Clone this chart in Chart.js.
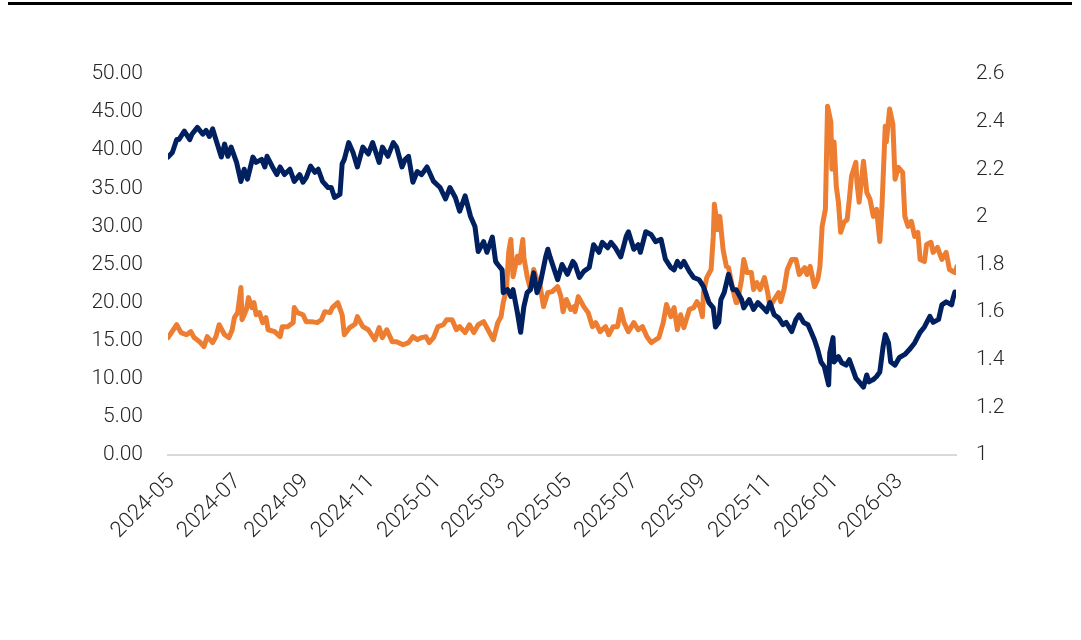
<!DOCTYPE html>
<html>
<head>
<meta charset="utf-8">
<script src="https://cdn.jsdelivr.net/npm/chart.js@4"></script>
<style>
  html, body { margin: 0; padding: 0; background: #fff; }
  #wrap { position: relative; width: 1081px; height: 640px; }
  #topline { position: absolute; left: 8px; top: 2px; width: 1064px; height: 3px; background: #000; }
  canvas { position: absolute; left: 0; top: 0; }
</style>
</head>
<body>
<div id="wrap">
  <canvas id="c" width="1081" height="640"></canvas>
  <div id="topline"></div>
</div>
<script>
// Base date for day offsets
const baseDate = '2024-05-01';
// X tick labels (every two months)
const tickLabels = ['2024-05','2024-07','2024-09','2024-11','2025-01','2025-03','2025-05','2025-07','2025-09','2025-11','2026-01','2026-03'];

// Navy series (left axis) : day offsets from baseDate and values
const navyDays = [-3,1,5,7,12,17,19,24,29,32,35,38,41,46,49,52,55,60,64,67,70,75,78,83,86,88,93,97,100,104,109,113,118,121,124,128,132,135,139,144,147,150,155,157,159,163,167,171,176,181,185,191,194,199,204,207,212,215,218,222,226,230,235,241,247,252,256,261,265,270,275,279,282,287,290,295,298,300,304,305,309,312,314,318,321,324,327,330,333,336,339,344,346,348,355,359,364,369,371,375,379,384,388,393,396,401,404,408,413,418,420,425,429,431,436,441,445,450,454,459,462,465,468,471,476,480,485,489,494,498,500,503,505,508,512,516,519,524,526,531,535,539,544,547,550,554,558,562,565,570,574,577,581,585,588,591,594,597,600,604,605,608,609,613,616,620,623,627,629,632,636,639,641,645,648,651,654,656,659,661,665,669,674,678,683,688,692,697,700,705,708,712,717,718,720];
const navyValues = [39.1,39.7,41.4,41.4,42.5,41.4,42.1,43.0,42.1,42.6,41.8,42.8,41.4,39.1,40.8,39.2,40.4,38.4,35.9,37.5,36.2,39.1,38.4,38.8,37.8,39.2,37.8,36.8,37.8,36.8,37.5,35.9,36.8,35.8,36.4,37.9,37.1,37.5,35.9,35.1,35.1,33.8,34.2,38.2,38.8,41.0,39.7,37.8,40.4,39.5,41.0,38.4,40.4,39.2,41.0,40.4,37.8,38.8,39.2,35.8,37.2,36.8,37.8,35.9,35.1,33.6,35.1,33.8,32.0,34.0,31.3,30.0,26.7,28.0,26.6,28.6,25.4,25.0,24.3,21.3,21.7,20.8,21.7,18.7,16.1,19.5,21.3,21.7,23.9,21.3,22.5,26.0,27.0,26.0,23.0,25.0,23.7,25.4,25.0,23.3,24.1,24.6,27.6,26.6,27.9,27.2,27.9,27.2,26.0,28.7,29.3,27.0,27.6,26.6,29.3,28.9,28.0,28.3,25.7,24.6,24.3,25.4,24.7,25.4,24.1,23.3,23.0,22.1,20.0,19.3,16.8,17.4,20.4,21.3,23.7,21.7,21.7,20.4,19.3,20.4,19.1,20.0,19.3,18.8,20.0,18.4,18.0,17.1,17.4,16.2,17.8,18.4,17.4,17.1,16.1,15.1,13.8,12.2,11.6,9.2,13.4,15.4,12.2,12.9,12.1,11.8,12.5,10.9,10.1,9.6,8.9,10.5,9.6,9.9,10.3,10.9,14.2,15.8,14.7,12.2,11.8,12.8,13.2,13.8,14.7,16.1,16.8,18.2,17.4,17.8,19.7,20.1,19.7,20.4,21.4];

// Orange series (right axis)
const orangeDays = [-3,5,9,14,18,21,26,30,33,38,41,44,49,53,56,58,61,64,65,69,71,74,76,78,81,84,87,89,95,100,102,107,112,113,116,121,124,129,134,138,141,146,148,153,157,159,164,169,171,176,181,187,191,194,198,203,207,213,218,222,226,230,234,237,241,245,250,253,258,262,265,270,274,278,282,287,291,296,300,303,305,308,310,312,314,318,320,323,324,327,330,333,336,339,342,346,350,355,358,360,363,367,370,371,374,379,383,387,390,394,399,402,406,410,413,416,420,425,429,433,437,441,445,448,452,455,459,462,465,468,471,476,480,483,486,488,489,492,496,498,499,502,504,507,510,512,516,519,520,524,526,529,533,535,538,541,545,548,550,554,558,560,563,566,570,574,577,582,584,587,591,594,596,598,601,603,606,607,609,611,613,615,618,621,623,625,629,630,632,636,639,642,645,648,651,653,656,657,660,663,665,668,672,674,677,680,683,686,688,692,694,698,700,704,708,712,715,720,722];
const orangeValues = [1.493,1.547,1.514,1.505,1.518,1.493,1.476,1.455,1.497,1.472,1.497,1.547,1.505,1.493,1.526,1.577,1.598,1.703,1.568,1.611,1.661,1.619,1.640,1.589,1.598,1.556,1.577,1.526,1.518,1.497,1.539,1.539,1.556,1.619,1.598,1.589,1.560,1.560,1.556,1.568,1.602,1.598,1.619,1.640,1.589,1.505,1.535,1.550,1.581,1.539,1.526,1.484,1.535,1.493,1.526,1.476,1.476,1.463,1.472,1.497,1.484,1.493,1.497,1.472,1.493,1.539,1.547,1.568,1.568,1.526,1.539,1.514,1.547,1.514,1.547,1.560,1.526,1.484,1.556,1.581,1.640,1.695,1.851,1.905,1.749,1.834,1.808,1.905,1.829,1.749,1.695,1.779,1.737,1.707,1.623,1.682,1.686,1.707,1.665,1.602,1.653,1.611,1.623,1.602,1.665,1.623,1.598,1.539,1.556,1.518,1.539,1.505,1.539,1.539,1.611,1.556,1.518,1.556,1.526,1.539,1.497,1.472,1.484,1.493,1.556,1.632,1.581,1.619,1.526,1.589,1.535,1.611,1.619,1.644,1.619,1.581,1.682,1.745,1.779,1.918,2.053,1.947,2.002,1.863,1.792,1.787,1.695,1.640,1.640,1.737,1.821,1.766,1.766,1.695,1.724,1.695,1.745,1.682,1.623,1.653,1.682,1.644,1.695,1.779,1.821,1.821,1.758,1.787,1.758,1.792,1.707,1.737,1.792,1.960,2.032,2.465,2.398,2.200,2.314,2.128,2.061,1.935,1.977,1.989,2.074,2.171,2.229,2.145,2.061,2.234,2.103,2.074,2.002,2.032,1.897,2.044,2.381,2.314,2.453,2.389,2.158,2.208,2.187,2.002,1.960,1.981,1.918,1.935,1.821,1.813,1.884,1.893,1.851,1.872,1.821,1.851,1.779,1.766,1.792];

function dayOf(ym) {
  const [y, m] = ym.split('-').map(Number);
  const [by, bm, bd] = baseDate.split('-').map(Number);
  return Math.round((Date.UTC(y, m - 1, 1) - Date.UTC(by, bm - 1, bd)) / 86400000);
}
const tickDays = tickLabels.map(dayOf);
const zip = (xs, ys) => xs.map((x, i) => ({ x: x, y: ys[i] }));

const FONT = { family: "Roboto, 'Open Sans', sans-serif", size: 21, weight: 300 };
const XFONT = { family: "Roboto, 'Open Sans', sans-serif", size: 22, weight: 300 };
const TXT = '#262626';

new Chart(document.getElementById('c'), {
  type: 'line',
  data: {
    datasets: [
      { data: zip(navyDays, navyValues), yAxisID: 'yL', borderColor: '#002060', borderWidth: 5, pointRadius: 0, tension: 0, borderJoinStyle: 'round', borderCapStyle: 'round' },
      { data: zip(orangeDays, orangeValues), yAxisID: 'yR', borderColor: '#ED7D31', borderWidth: 5, pointRadius: 0, tension: 0, borderJoinStyle: 'round', borderCapStyle: 'round' }
    ]
  },
  options: {
    responsive: false,
    animation: false,
    events: [],
    layout: { padding: { top: 74, bottom: 85, left: 0, right: 0 } },
    plugins: { legend: { display: false }, tooltip: { enabled: false } },
    scales: {
      x: {
        type: 'linear', min: -3, max: 721,
        afterBuildTicks: (ax) => { ax.ticks = tickDays.map(v => ({ value: v })); },
        afterFit: (ax) => { ax.height = 100; },
        grid: { display: false, drawTicks: false },
        border: { display: true, color: '#D9D9D9', width: 2 },
        ticks: {
          autoSkip: false, maxRotation: 45, minRotation: 45, padding: 14,
          color: TXT, font: XFONT,
          callback: (v) => { const i = tickDays.indexOf(v); return i >= 0 ? tickLabels[i] : ''; }
        }
      },
      yL: {
        position: 'left', min: 0, max: 50,
        afterFit: (ax) => { ax.width = 168; },
        grid: { display: false, drawTicks: false },
        border: { display: false },
        ticks: { stepSize: 5, padding: 25, color: TXT, font: FONT, callback: (v) => v.toFixed(2) }
      },
      yR: {
        position: 'right', min: 1, max: 2.6,
        afterFit: (ax) => { ax.width = 125; },
        grid: { display: false, drawTicks: false },
        border: { display: false },
        ticks: { stepSize: 0.2, padding: 20, color: TXT, font: FONT, callback: (v) => String(Number(v.toFixed(1))) }
      }
    }
  }
});
</script>
</body>
</html>
